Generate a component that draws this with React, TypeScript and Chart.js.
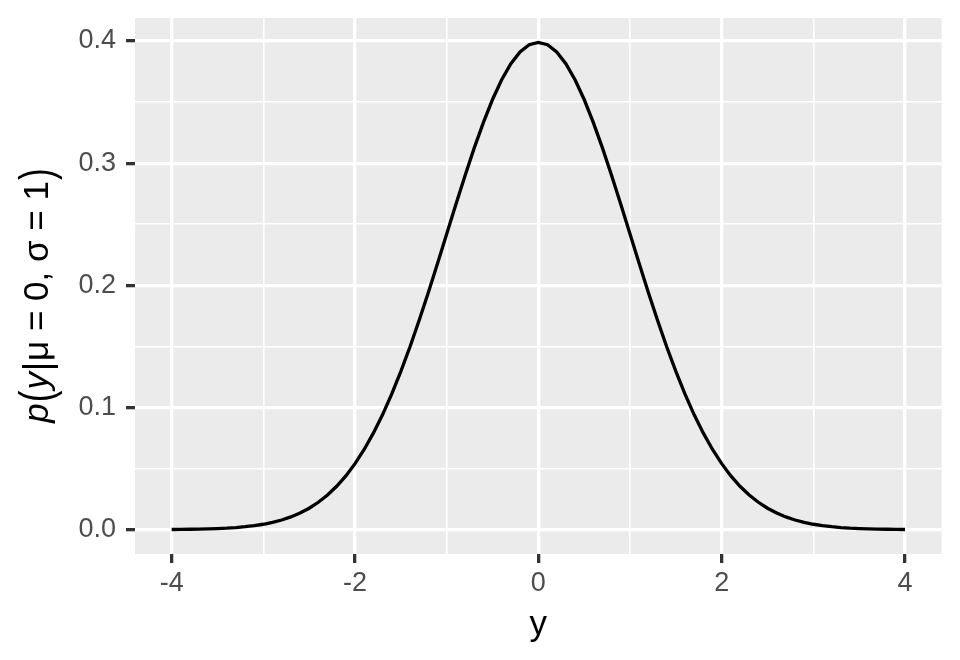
import React, { useEffect, useRef } from "react";
import { Chart, registerables } from "chart.js";

Chart.register(...registerables);

// ---- data ----
const XS = [
  -4.0, -3.9, -3.8, -3.7, -3.6, -3.5, -3.4, -3.3, -3.2, -3.1,
  -3.0, -2.9, -2.8, -2.7, -2.6, -2.5, -2.4, -2.3, -2.2, -2.1,
  -2.0, -1.9, -1.8, -1.7, -1.6, -1.5, -1.4, -1.3, -1.2, -1.1,
  -1.0, -0.9, -0.8, -0.7, -0.6, -0.5, -0.4, -0.3, -0.2, -0.1,
  0.0,
  0.1, 0.2, 0.3, 0.4, 0.5, 0.6, 0.7, 0.8, 0.9, 1.0,
  1.1, 1.2, 1.3, 1.4, 1.5, 1.6, 1.7, 1.8, 1.9, 2.0,
  2.1, 2.2, 2.3, 2.4, 2.5, 2.6, 2.7, 2.8, 2.9, 3.0,
  3.1, 3.2, 3.3, 3.4, 3.5, 3.6, 3.7, 3.8, 3.9, 4.0,
];

const DENSITY = [
  0.0001, 0.0002, 0.0003, 0.0004, 0.0006, 0.0009, 0.0012, 0.0017, 0.0024, 0.0033,
  0.0044, 0.006, 0.0079, 0.0104, 0.0136, 0.0175, 0.0224, 0.0283, 0.0355, 0.044,
  0.054, 0.0656, 0.079, 0.094, 0.1109, 0.1295, 0.1497, 0.1714, 0.1942, 0.2179,
  0.242, 0.2661, 0.2897, 0.3123, 0.3332, 0.3521, 0.3683, 0.3814, 0.391, 0.397,
  0.3989,
  0.397, 0.391, 0.3814, 0.3683, 0.3521, 0.3332, 0.3123, 0.2897, 0.2661, 0.242,
  0.2179, 0.1942, 0.1714, 0.1497, 0.1295, 0.1109, 0.094, 0.079, 0.0656, 0.054,
  0.044, 0.0355, 0.0283, 0.0224, 0.0175, 0.0136, 0.0104, 0.0079, 0.006, 0.0044,
  0.0033, 0.0024, 0.0017, 0.0012, 0.0009, 0.0006, 0.0004, 0.0003, 0.0002, 0.0001,
];

const X_GRID = [-4, -3, -2, -1, 0, 1, 2, 3, 4];
const X_MAJOR = [-4, -2, 0, 2, 4];
const X_LABELS = ["-4", "-2", "0", "2", "4"];

const Y_GRID = [0, 0.05, 0.1, 0.15, 0.2, 0.25, 0.3, 0.35, 0.4];
const Y_MAJOR = [0, 0.1, 0.2, 0.3, 0.4];
const Y_LABELS = ["0.0", "0.1", "0.2", "0.3", "0.4"];

const X_TITLE = "y";

const FONT = '"Liberation Sans", Arial, Helvetica, sans-serif';
const TICK_FONT_SIZE = 27;
const TITLE_FONT_SIZE = 35;

const majorIndex = (arr: number[], v: number) =>
  arr.findIndex((m) => Math.abs(m - v) < 1e-9);

const panelPlugin = {
  id: "panelBg",
  beforeDraw(chart: any) {
    const { ctx, chartArea } = chart;
    ctx.save();
    ctx.fillStyle = "#EBEBEB";
    ctx.fillRect(
      chartArea.left,
      chartArea.top,
      chartArea.right - chartArea.left,
      chartArea.bottom - chartArea.top
    );
    ctx.restore();
  },
  afterDraw(chart: any) {
    const { ctx, chartArea } = chart;
    // x axis title
    ctx.save();
    ctx.fillStyle = "#000000";
    ctx.font = `${TITLE_FONT_SIZE}px ${FONT}`;
    ctx.textAlign = "center";
    ctx.textBaseline = "alphabetic";
    ctx.fillText(X_TITLE, (chartArea.left + chartArea.right) / 2, 635);
    ctx.restore();

    // y axis title: p(y | mu = 0, sigma = 1) with plotmath-like styling
    const upright = `${TITLE_FONT_SIZE}px ${FONT}`;
    const italic = `italic ${TITLE_FONT_SIZE}px ${FONT}`;
    const pieces = [
      { t: "p", font: italic, sy: 1, dy: 0, pad: 0 },
      { t: "(", font: upright, sy: 1.33, dy: 4, pad: 1 },
      { t: "y", font: italic, sy: 1, dy: 0, pad: 0 },
      { t: "|", font: upright, sy: 1.12, dy: 2, pad: 1 },
      { t: "\u03BC = 0, \u03C3 = 1", font: upright, sy: 1, dy: 0, pad: 0 },
      { t: ")", font: upright, sy: 1.33, dy: 4, pad: 1 },
    ];
    ctx.save();
    ctx.fillStyle = "#000000";
    ctx.textAlign = "left";
    ctx.textBaseline = "alphabetic";
    const widths = pieces.map((p) => {
      ctx.font = p.font;
      return ctx.measureText(p.t).width + p.pad * 2;
    });
    const total = widths.reduce((a, b) => a + b, 0);
    const centerY = (chartArea.top + chartArea.bottom) / 2 + 9;
    const baseX = 48;
    ctx.translate(baseX, centerY);
    ctx.rotate(-Math.PI / 2);
    let cursor = -total / 2;
    pieces.forEach((p, i) => {
      ctx.save();
      ctx.font = p.font;
      ctx.translate(cursor + p.pad, p.dy);
      ctx.scale(1, p.sy);
      ctx.fillText(p.t, 0, 0);
      ctx.restore();
      cursor += widths[i];
    });
    ctx.restore();
  },
};

export default function App() {
  const ref = useRef<HTMLCanvasElement>(null);

  useEffect(() => {
    if (!ref.current) return;
    const chart = new Chart(ref.current, {
      type: "line",
      data: {
        datasets: [
          {
            data: XS.map((x, i) => ({ x, y: DENSITY[i] })),
            borderColor: "#000000",
            borderWidth: 3.3,
            pointRadius: 0,
            tension: 0,
            fill: false,
          },
        ],
      },
      options: {
        animation: false,
        responsive: false,
        devicePixelRatio: 1,
        events: [],
        layout: { padding: { top: 18, right: 18.3, left: 0, bottom: 0 } },
        plugins: {
          legend: { display: false },
          tooltip: { enabled: false },
          title: { display: false },
        },
        scales: {
          x: {
            type: "linear",
            min: -4.4,
            max: 4.4,
            afterBuildTicks: (scale: any) => {
              scale.ticks = X_GRID.map((v) => ({ value: v }));
            },
            afterFit: (scale: any) => {
              scale.height = 106;
              scale.paddingLeft = 0;
              scale.paddingRight = 0;
              scale.paddingTop = 0;
              scale.paddingBottom = 0;
            },
            border: { display: false },
            grid: {
              color: "#FFFFFF",
              lineWidth: (c: any) =>
                majorIndex(X_MAJOR, c.tick?.value) >= 0 ? 3.3 : 1.6,
              tickColor: (c: any) =>
                majorIndex(X_MAJOR, c.tick?.value) >= 0
                  ? "#333333"
                  : "rgba(0,0,0,0)",
              tickWidth: 3.3,
              tickLength: 9,
              drawTicks: true,
            },
            ticks: {
              autoSkip: false,
              maxRotation: 0,
              padding: 4,
              color: "#4D4D4D",
              font: { family: FONT, size: TICK_FONT_SIZE },
              callback: (v: any) => {
                const i = majorIndex(X_MAJOR, Number(v));
                return i >= 0 ? X_LABELS[i] : "";
              },
            },
          },
          y: {
            type: "linear",
            min: -0.01995,
            max: 0.41884,
            afterBuildTicks: (scale: any) => {
              scale.ticks = Y_GRID.map((v) => ({ value: v }));
            },
            afterFit: (scale: any) => {
              scale.width = 135;
              scale.paddingLeft = 0;
              scale.paddingRight = 0;
              scale.paddingTop = 0;
              scale.paddingBottom = 0;
            },
            border: { display: false },
            grid: {
              color: "#FFFFFF",
              lineWidth: (c: any) =>
                majorIndex(Y_MAJOR, c.tick?.value) >= 0 ? 3.3 : 1.6,
              tickColor: (c: any) =>
                majorIndex(Y_MAJOR, c.tick?.value) >= 0
                  ? "#333333"
                  : "rgba(0,0,0,0)",
              tickWidth: 3.3,
              tickLength: 9,
              drawTicks: true,
            },
            ticks: {
              autoSkip: false,
              padding: 10,
              color: "#4D4D4D",
              font: { family: FONT, size: TICK_FONT_SIZE },
              callback: (v: any) => {
                const i = majorIndex(Y_MAJOR, Number(v));
                return i >= 0 ? Y_LABELS[i] : "";
              },
            },
          },
        },
      },
      plugins: [panelPlugin],
    } as any);
    return () => chart.destroy();
  }, []);

  return (
    <div
      style={{
        position: "absolute",
        left: 0,
        top: 0,
        width: 960,
        height: 660,
        background: "#FFFFFF",
      }}
    >
      <canvas
        ref={ref}
        width={960}
        height={660}
        style={{ display: "block", width: 960, height: 660 }}
      />
    </div>
  );
}
